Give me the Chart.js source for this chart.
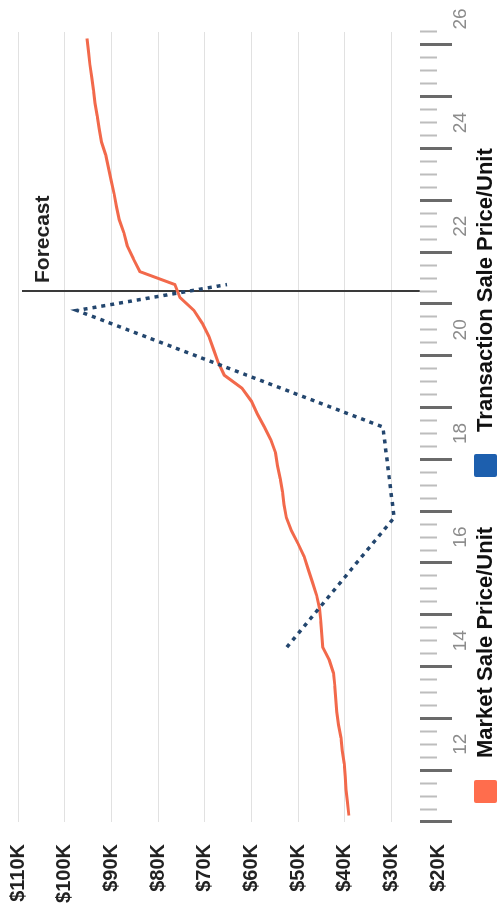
<!DOCTYPE html>
<html>
<head>
<meta charset="utf-8">
<script src="https://cdn.jsdelivr.net/npm/chart.js@4.4.1/dist/chart.umd.min.js"></script>
<style>
  html, body { margin: 0; padding: 0; background: #fff; overflow: hidden; }
  /* chart is laid out landscape, then turned a quarter turn counter-clockwise */
  #page { position: absolute; left: 0; top: 911px; width: 911px; height: 499px; transform-origin: 0 0; transform: rotate(-90deg); }
  #chart { position: absolute; left: 0; top: 0; }
  #legend { position: absolute; left: 108px; top: 472px; display: flex; align-items: center; font: bold 22px "Liberation Sans", Arial, sans-serif; color: #111; white-space: nowrap; }
  .item { display: flex; align-items: center; margin-right: 50px; }
  .swatch { width: 23px; height: 23px; margin-right: 22px; border-radius: 2px; }
</style>
</head>
<body>
<div id="page">
  <canvas id="chart" width="911" height="499"></canvas>
  <div id="legend"></div>
</div>
<script>
// quarterly market pricing, 2011 Q1 .. 2026 Q1
const marketQuarters = [
  '2011Q1', '2011Q2', '2011Q3', '2011Q4',
  '2012Q1', '2012Q2', '2012Q3', '2012Q4',
  '2013Q1', '2013Q2', '2013Q3', '2013Q4',
  '2014Q1', '2014Q2', '2014Q3', '2014Q4',
  '2015Q1', '2015Q2', '2015Q3', '2015Q4',
  '2016Q1', '2016Q2', '2016Q3', '2016Q4',
  '2017Q1', '2017Q2', '2017Q3', '2017Q4',
  '2018Q1', '2018Q2', '2018Q3', '2018Q4',
  '2019Q1', '2019Q2', '2019Q3', '2019Q4',
  '2020Q1', '2020Q2', '2020Q3', '2020Q4',
  '2021Q1', '2021Q2', '2021Q3', '2021Q4',
  '2022Q1', '2022Q2', '2022Q3', '2022Q4',
  '2023Q1', '2023Q2', '2023Q3', '2023Q4',
  '2024Q1', '2024Q2', '2024Q3', '2024Q4',
  '2025Q1', '2025Q2', '2025Q3', '2025Q4',
  '2026Q1'
];
const marketValues = [
  39.1, 39.4, 39.7, 39.9,
  40.1, 40.5, 40.8, 41.3,
  41.7, 41.9, 42.1, 42.4,
  43.3, 44.7, 44.9, 45.1,
  45.4, 46.0, 46.9, 47.8,
  48.7, 50.0, 51.4, 52.5,
  53.0, 53.3, 53.8, 54.4,
  54.8, 55.8, 57.2, 58.7,
  60.0, 62.0, 65.8, 67.1,
  68.1, 69.1, 70.5, 72.3,
  75.3, 76.4, 83.9, 85.3,
  86.6, 87.3, 88.3, 88.9,
  89.4, 90.0, 90.6, 91.2,
  92.1, 92.6, 93.0, 93.5,
  93.8, 94.2, 94.6, 94.9,
  95.2
];

// individual transactions
const transactionQuarters = ['2014Q2', '2016Q4', '2018Q3', '2020Q4', '2021Q2'];
const transactionValues = [52.4, 29.4, 31.8, 97.4, 65.2];

const priceTicks = [20, 30, 40, 50, 60, 70, 80, 90, 100, 110];
const yearLabels = ['12', '14', '16', '18', '20', '22', '24', '26'];
const forecastQuarter = '2021Q2';
const forecastLabel = 'Forecast';

const axisFloor = 23.9;   // where the year tick marks hang from
const labelRow = 17.5;    // row the year labels sit on
const xMin = 11, xMax = 26.25;
const fontFamily = '"Liberation Sans", Arial, sans-serif';

// '2014Q2' -> 14.25 (start) / 14.375 (middle of the quarter)
function quarterStart(q) {
  return Number(q.slice(2, 4)) + (Number(q.slice(5)) - 1) * 0.25;
}
function quarterPos(q) {
  return quarterStart(q) + 0.125;
}

const marketPoints = marketQuarters.map((q, i) => ({ x: quarterPos(q), y: marketValues[i] }));
const transactionPoints = transactionQuarters.map((q, i) => ({ x: quarterPos(q), y: transactionValues[i] }));

// tick mark positions
const quarterTicks = [];
for (let v = xMin; v <= xMax + 1e-9; v += 0.25) quarterTicks.push(v);
const yearTicks = [];
for (let v = xMin; v <= xMax; v += 1) yearTicks.push(v);

const forecastMarker = {
  id: 'forecastMarker',
  beforeDatasetsDraw(chart) {
    const { ctx, chartArea, scales } = chart;
    const px = Math.round(scales.x.getPixelForValue(quarterStart(forecastQuarter)));
    const bottom = scales.y.getPixelForValue(axisFloor);
    ctx.save();
    ctx.strokeStyle = '#3a3a3a';
    ctx.lineWidth = 2;
    ctx.beginPath();
    ctx.moveTo(px, chartArea.top + 4);
    ctx.lineTo(px, bottom);
    ctx.stroke();
    ctx.fillStyle = '#222';
    ctx.font = 'bold 21px ' + fontFamily;
    ctx.textBaseline = 'middle';
    ctx.fillText(forecastLabel, px + 8, chartArea.top + 25);
    ctx.restore();
  }
};

Chart.defaults.font.family = fontFamily;

const chart = new Chart(document.getElementById('chart').getContext('2d'), {
  type: 'line',
  data: {
    datasets: [
      {
        label: 'Market Sale Price/Unit',
        data: marketPoints,
        borderColor: '#f2694b',
        legendColor: '#ff6d4d',
        borderWidth: 3,
        pointRadius: 0,
        tension: 0,
        order: 2
      },
      {
        label: 'Transaction Sale Price/Unit',
        data: transactionPoints,
        borderColor: '#23466e',
        legendColor: '#1d5fae',
        borderWidth: 3.5,
        borderDash: [4, 5],
        borderCapStyle: 'butt',
        pointRadius: 0,
        tension: 0,
        order: 1
      }
    ]
  },
  options: {
    responsive: false,
    animation: false,
    devicePixelRatio: 1,
    layout: { padding: { left: 0, top: 18, right: 32, bottom: 61 } },
    plugins: {
      legend: { display: false },
      tooltip: { enabled: false }
    },
    scales: {
      x: {
        type: 'linear',
        axis: 'x',
        min: xMin,
        max: xMax,
        position: { y: axisFloor },
        afterBuildTicks: s => { s.ticks = quarterTicks.map(v => ({ value: v })); },
        ticks: { display: false },
        grid: { drawOnChartArea: false, tickLength: 17, tickWidth: 2, tickColor: '#bdbdbd' },
        border: { display: false }
      },
      xYears: {
        type: 'linear',
        axis: 'x',
        min: xMin,
        max: xMax,
        position: { y: axisFloor },
        afterBuildTicks: s => { s.ticks = yearTicks.map(v => ({ value: v })); },
        ticks: { display: false },
        grid: { drawOnChartArea: false, tickLength: 32, tickWidth: 3, tickColor: '#6a6a6a' },
        border: { display: false }
      },
      xLabels: {
        type: 'linear',
        axis: 'x',
        min: xMin,
        max: xMax,
        position: { y: labelRow },
        afterBuildTicks: s => { s.ticks = yearLabels.map(l => ({ value: Number(l) + 0.5 })); },
        ticks: {
          padding: 0,
          color: '#8c8c8c',
          font: { size: 19 },
          maxRotation: 0,
          autoSkip: false,
          callback: v => String(v - 0.5)
        },
        grid: { display: false, drawTicks: false },
        border: { display: false }
      },
      y: {
        min: priceTicks[0],
        max: priceTicks[priceTicks.length - 1],
        afterBuildTicks: s => { s.ticks = priceTicks.map(v => ({ value: v })); },
        afterFit: s => { s.width = 89; },
        ticks: {
          padding: 0,
          color: '#222',
          font: { size: 20, weight: 'bold' },
          callback: v => '$' + v + 'K'
        },
        grid: {
          // invisible tick marks keep the labels clear of the plot
          drawTicks: true,
          tickLength: 22,
          tickColor: 'rgba(0,0,0,0)',
          lineWidth: 1,
          color: ctx => ctx.tick && ctx.tick.value === priceTicks[0] ? 'rgba(0,0,0,0)' : '#e1e1e1'
        },
        border: { display: false }
      }
    }
  },
  plugins: [forecastMarker]
});

// legend
const legend = document.getElementById('legend');
chart.data.datasets.forEach(ds => {
  const item = document.createElement('div');
  item.className = 'item';
  item.innerHTML = `<span class="swatch" style="background:${ds.legendColor}"></span><span>${ds.label}</span>`;
  legend.appendChild(item);
});
</script>
</body>
</html>
